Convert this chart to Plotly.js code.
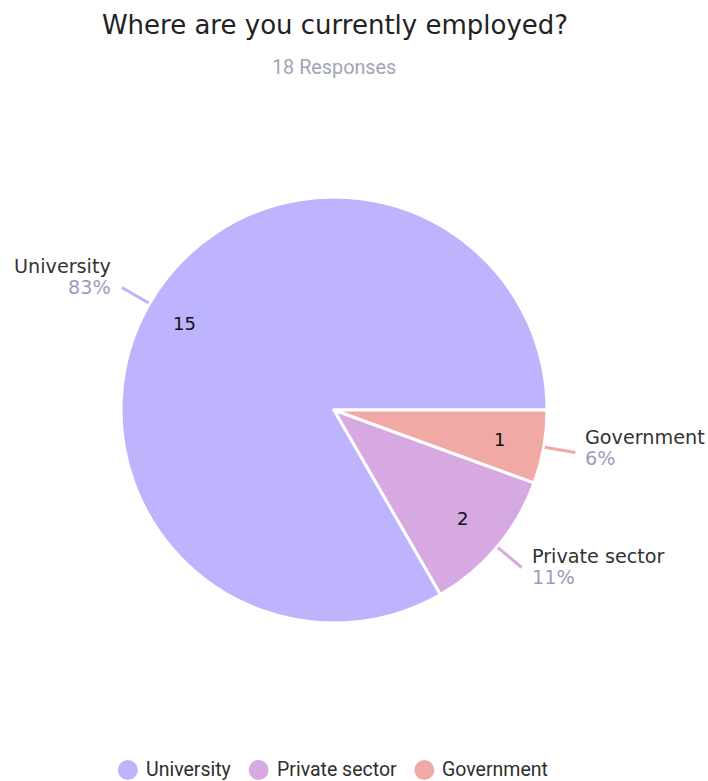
<!DOCTYPE html>
<html>
<head>
<meta charset="utf-8">
<script src="https://cdn.plot.ly/plotly-3.0.1.min.js"></script>
<style>html,body{margin:0;padding:0;background:#fff;}#chart{width:708px;height:781px;}</style>
</head>
<body>
<div id="chart"></div>
<script>
// ---- data ----
const categories = ["University", "Private sector", "Government"];
const counts = [15, 2, 1];
const colors = ["#bdb4fd", "#d6a9e2", "#f0a9a4"];
const titleText = "Where are you currently employed?";
const subtitleText = "18 Responses";

// ---- layout helpers ----
const W = 708, H = 781;
const cx = 334, cy = 410, R = 213;
const px = x => x / W;
const py = y => 1 - y / H;
const total = counts.reduce((a, b) => a + b, 0);

const annotations = [];
const shapes = [];

annotations.push({
  xref: "paper", yref: "paper", x: px(334), y: py(67), xanchor: "center", yanchor: "middle",
  text: subtitleText, showarrow: false,
  font: {family: "Roboto", size: 19.8, color: "#a0a4b8"}
});

let cum = 0;
counts.forEach((v, i) => {
  const mid = (cum + v / 2) / total * 2 * Math.PI;
  cum += v;
  const c = Math.cos(mid), s = Math.sin(mid);
  // inside value
  const rr = (i === 0 ? 0.81 : 0.79) * R;
  annotations.push({
    xref: "paper", yref: "paper", x: px(cx + rr * c), y: py(cy - rr * s),
    xanchor: "center", yanchor: "middle", showarrow: false, text: String(v),
    font: {family: "DejaVu Sans", size: 18, color: "#111"}
  });
  // leader line
  const x0 = cx + (R + 1) * c, y0 = cy - (R + 1) * s;
  const x1 = cx + (R + 32) * c, y1 = cy - (R + 32) * s;
  shapes.push({type: "line", xref: "paper", yref: "paper", x0: px(x0), y0: py(y0), x1: px(x1), y1: py(y1),
    line: {color: colors[i], width: 3}});
  const right = c < 0;
  const tx = right ? x1 - 9 : x1 + 8;
  const pctY = y1 + 4.6 - 9.2 * s;
  const labY = pctY - 21;
  const pct = Math.round(v / total * 100) + "%";
  annotations.push({
    xref: "paper", yref: "paper", x: px(tx), y: py(labY), xanchor: right ? "right" : "left", yanchor: "middle",
    showarrow: false, text: categories[i], font: {family: "DejaVu Sans", size: 19.2, color: "#333"}
  });
  annotations.push({
    xref: "paper", yref: "paper", x: px(tx), y: py(pctY), xanchor: right ? "right" : "left", yanchor: "middle",
    showarrow: false, text: pct, font: {family: "DejaVu Sans", size: 19.2, color: "#9a9dbd"}
  });
});

// ---- manual legend ----
const legendSize = 19.5;
const cvs = document.createElement("canvas").getContext("2d");
cvs.font = legendSize + "px Roboto";
const widths = categories.map(t => cvs.measureText(t).width);
const gap = 26, symR = 10, textOff = 20;
let totalW = symR;
widths.forEach((w, i) => { totalW += textOff + w + (i < widths.length - 1 ? gap : 0); });
let lx = 334 - totalW / 2 + symR;
const ly = 769;
categories.forEach((t, i) => {
  shapes.push({type: "circle", xref: "paper", yref: "paper", xsizemode: "pixel", ysizemode: "pixel",
    xanchor: px(lx), yanchor: py(ly + 1), x0: -symR, x1: symR, y0: -symR, y1: symR,
    fillcolor: colors[i], line: {width: 0}});
  annotations.push({
    xref: "paper", yref: "paper", x: px(lx + textOff), y: py(ly), xanchor: "left", yanchor: "middle",
    showarrow: false, text: t, xshift: -2, borderpad: 0, borderwidth: 0,
    font: {family: "Roboto", size: legendSize, color: "#2e2e2e"}
  });
  lx += textOff + widths[i] + gap;
});

const trace = {
  type: "pie",
  labels: categories,
  values: counts,
  sort: false,
  direction: "counterclockwise",
  rotation: 150,
  textinfo: "none",
  hoverinfo: "label+value+percent",
  marker: {colors: colors, line: {color: "#ffffff", width: 3}},
  domain: {x: [px(cx - R), px(cx + R)], y: [py(cy + R), py(cy - R)]},
  showlegend: false
};

const layout = {
  width: W, height: H,
  margin: {l: 0, r: 0, t: 0, b: 0},
  paper_bgcolor: "#fff",
  showlegend: false,
  title: {text: titleText, x: px(335), xanchor: "center", y: py(25), yanchor: "middle",
    font: {family: "DejaVu Sans", size: 26, color: "#222"}},
  annotations: annotations,
  shapes: shapes
};

Plotly.newPlot("chart", [trace], layout, {displayModeBar: false});
</script>
</body>
</html>
